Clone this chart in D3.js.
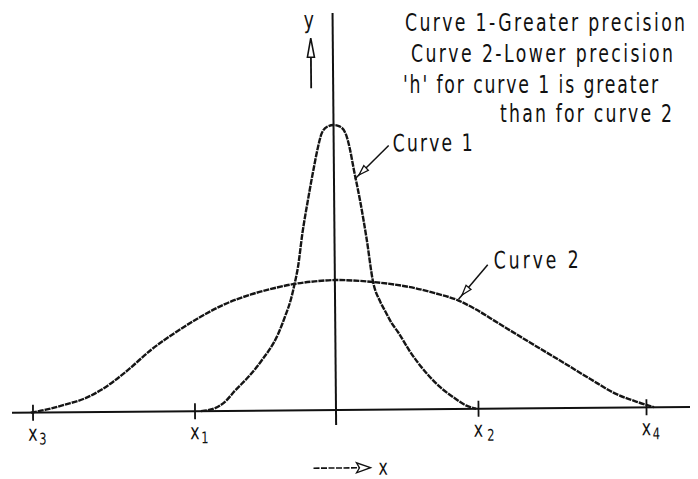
<!DOCTYPE html>
<html>
<head>
<meta charset="utf-8">
<script src="https://cdn.jsdelivr.net/npm/d3@7"></script>
<style>
  html, body { margin: 0; padding: 0; background: #fff; }
  svg { display: block; }
  text { font-family: 'DejaVu Sans Condensed', 'Liberation Sans Narrow', 'DejaVu Sans', sans-serif; font-stretch: condensed; fill: #111; }
</style>
</head>
<body>
<svg id="chart" width="698" height="479"></svg>
<script>
// ---------------- data ----------------
// Curve 1 : greater precision (sharp peak)
const curve1X = [-4.5, -4.03, -3.67, -3.37, -2.9, -2.47, -1.9, -1.67, -1.47, -1.33, -1.23, -1.07, -0.87, -0.67, -0.53, -0.4, -0.2, 0,
                 0.2, 0.4, 0.53, 0.67, 0.87, 1.07, 1.27, 1.5, 1.67, 1.87, 2.1, 2.5, 3.0, 3.5, 3.93, 4.33, 4.67];
const curve1Y = [0, 0.01, 0.035, 0.07, 0.12, 0.175, 0.27, 0.33, 0.39, 0.45, 0.5, 0.62, 0.74, 0.85, 0.92, 0.97, 0.995, 1,
                 0.995, 0.97, 0.92, 0.84, 0.73, 0.6, 0.45, 0.38, 0.345, 0.305, 0.27, 0.2, 0.13, 0.075, 0.04, 0.012, 0];
// Curve 2 : lower precision (flat, wide)
const curve2X = [-10.17, -9.67, -9.0, -8.33, -7.8, -7.0, -6.13, -5.33, -4.47, -3.67, -2.8, -2.0, -1.33, -0.67, 0,
                 1.27, 2.67, 3.33, 4.1, 4.67, 5.43, 6.5, 7.63, 8.5, 9.3, 10.1, 10.6];
const curve2Y = [0, 0.01, 0.028, 0.05, 0.079, 0.14, 0.218, 0.277, 0.332, 0.375, 0.408, 0.43, 0.444, 0.452, 0.456,
                 0.448, 0.425, 0.407, 0.381, 0.35, 0.30, 0.23, 0.157, 0.1, 0.05, 0.017, 0];
// x-axis tick marks and labels
const tickValues = [-10.1, -4.7, 4.75, 10.35];
const tickNames  = ["x", "x", "x", "x"];
const tickSubs   = ["3", "1", "2", "4"];
// notes
const noteLines = ["Curve 1-Greater precision", "Curve 2-Lower precision", "'h' for curve 1 is greater", "than for curve 2"];
const curveLabels = ["Curve 1", "Curve 2"];
const curveAnchors = [[0.63, 0.81], [4.05, 0.385]];
const axisNames = ["y", "x"];

// ---------------- layout ----------------
const svg = d3.select("#chart");
const W = 698, H = 479;
const xc = 336, base = 410;
const x = d3.scaleLinear().domain([-10, 10]).range([xc - 300, xc + 300]);
const y = d3.scaleLinear().domain([0, 1]).range([base, 125]);
const SX = 0.8; // horizontal squeeze for the narrow lettering

svg.append("rect").attr("width", W).attr("height", H).attr("fill", "#fff");

// narrow text helper: places text at (px,py), squeezed horizontally, stretched to width w
function narrowText(parent, s, px, py, size, w) {
  const t = parent.append("text")
    .attr("transform", `translate(${px},${py}) scale(${SX},1)`)
    .style("font-size", size + "px").text(s);
  if (w) t.attr("textLength", w / SX).attr("lengthAdjust", "spacing");
  return t;
}

const g = svg.append("g").attr("transform", `rotate(-0.5, ${xc}, ${base})`);

// horizontal axis
g.append("line").attr("x1", 12).attr("x2", 690).attr("y1", base).attr("y2", base)
  .attr("stroke", "#111").attr("stroke-width", 2);
// vertical axis
g.append("line").attr("x1", x(0)).attr("x2", x(0)).attr("y1", 13).attr("y2", base + 15)
  .attr("stroke", "#111").attr("stroke-width", 2);

// ticks
const ticks = g.selectAll(".tk").data(tickValues).enter().append("g").attr("class", "tk")
  .attr("transform", d => `translate(${x(d)},0)`);
ticks.append("line").attr("y1", base - 8).attr("y2", base + 8).attr("stroke", "#111").attr("stroke-width", 1.8);
const tl = ticks.append("text").attr("transform", `translate(-5,${base + 28}) scale(${SX},1)`).style("font-size", "22px");
tl.append("tspan").text((d, i) => tickNames[i]);
tl.append("tspan").attr("dx", (d, i) => i === 2 ? 5 : 2).attr("dy", 4).style("font-size", "16px").text((d, i) => tickSubs[i]);

// curves
const line = d3.line().x(d => x(d[0])).y(d => y(d[1])).curve(d3.curveMonotoneX);
const c1 = curve1X.map((v, i) => [v, curve1Y[i]]);
const c2 = curve2X.map((v, i) => [v, curve2Y[i]]);
[c2, c1].forEach(c => {
  g.append("path").attr("d", line(c)).attr("fill", "none")
    .attr("stroke", "#151515").attr("stroke-width", 2.4)
    .attr("stroke-dasharray", "6 1").attr("stroke-linejoin", "round");
});

// leader lines with open arrowheads
const labelPos = [[395, 152], [495, 270]];
const labelW = [80, 85];
const leaderStart = [[391, 146], [489, 266]];
function arrowHead(sel, tip, from, len, hw) {
  const dx = from[0] - tip[0], dy = from[1] - tip[1];
  const L = Math.hypot(dx, dy), ux = dx / L, uy = dy / L;
  const bx = tip[0] + ux * len, by = tip[1] + uy * len;
  const p = [[tip[0], tip[1]], [bx - uy * hw, by + ux * hw], [bx + uy * hw, by - ux * hw]];
  sel.append("path").attr("d", "M" + p.map(q => q.join(",")).join("L") + "Z")
    .attr("fill", "#fff").attr("stroke", "#111").attr("stroke-width", 1.3);
}
curveLabels.forEach((lab, i) => {
  const ax = x(curveAnchors[i][0]) + 2, ay = y(curveAnchors[i][1]);
  g.append("line").attr("x1", leaderStart[i][0]).attr("y1", leaderStart[i][1])
    .attr("x2", ax).attr("y2", ay).attr("stroke", "#111").attr("stroke-width", 1.5);
  const t = [ax + (leaderStart[i][0] - ax) * 0.12, ay + (leaderStart[i][1] - ay) * 0.12];
  arrowHead(g, t, leaderStart[i], 10, 3.2);
  narrowText(g, lab, labelPos[i][0], labelPos[i][1], 24, labelW[i]);
});

// y-axis name with up arrow
narrowText(g, axisNames[0], x(0) - 29, 28, 24);
g.append("line").attr("x1", x(0) - 22).attr("x2", x(0) - 22).attr("y1", 88).attr("y2", 44)
  .attr("stroke", "#111").attr("stroke-width", 1.8);
g.append("path").attr("d", `M${x(0) - 22},38 L${x(0) - 25.5},57 L${x(0) - 18.5},57 Z`)
  .attr("fill", "#fff").attr("stroke", "#111").attr("stroke-width", 1.6);

// x-axis name with right arrow
g.append("line").attr("x1", x(0) - 23).attr("x2", x(0) + 28).attr("y1", 468).attr("y2", 468)
  .attr("stroke", "#111").attr("stroke-width", 1.6).attr("stroke-dasharray", "6 1.5");
g.append("path").attr("d", `M${x(0) + 34},468 L${x(0) + 20},463 L${x(0) + 23},468 L${x(0) + 20},473 Z`)
  .attr("fill", "#fff").attr("stroke", "#111").attr("stroke-width", 1.3);
narrowText(g, axisNames[1], x(0) + 42, 475, 22);

// note text at top right
const notePos = [[405, 31, 280], [411, 62, 262], [403, 93, 255], [500, 122, 172]];
noteLines.forEach((s, i) => {
  narrowText(svg, s, notePos[i][0], notePos[i][1], 24, notePos[i][2]);
});
</script>
</body>
</html>
